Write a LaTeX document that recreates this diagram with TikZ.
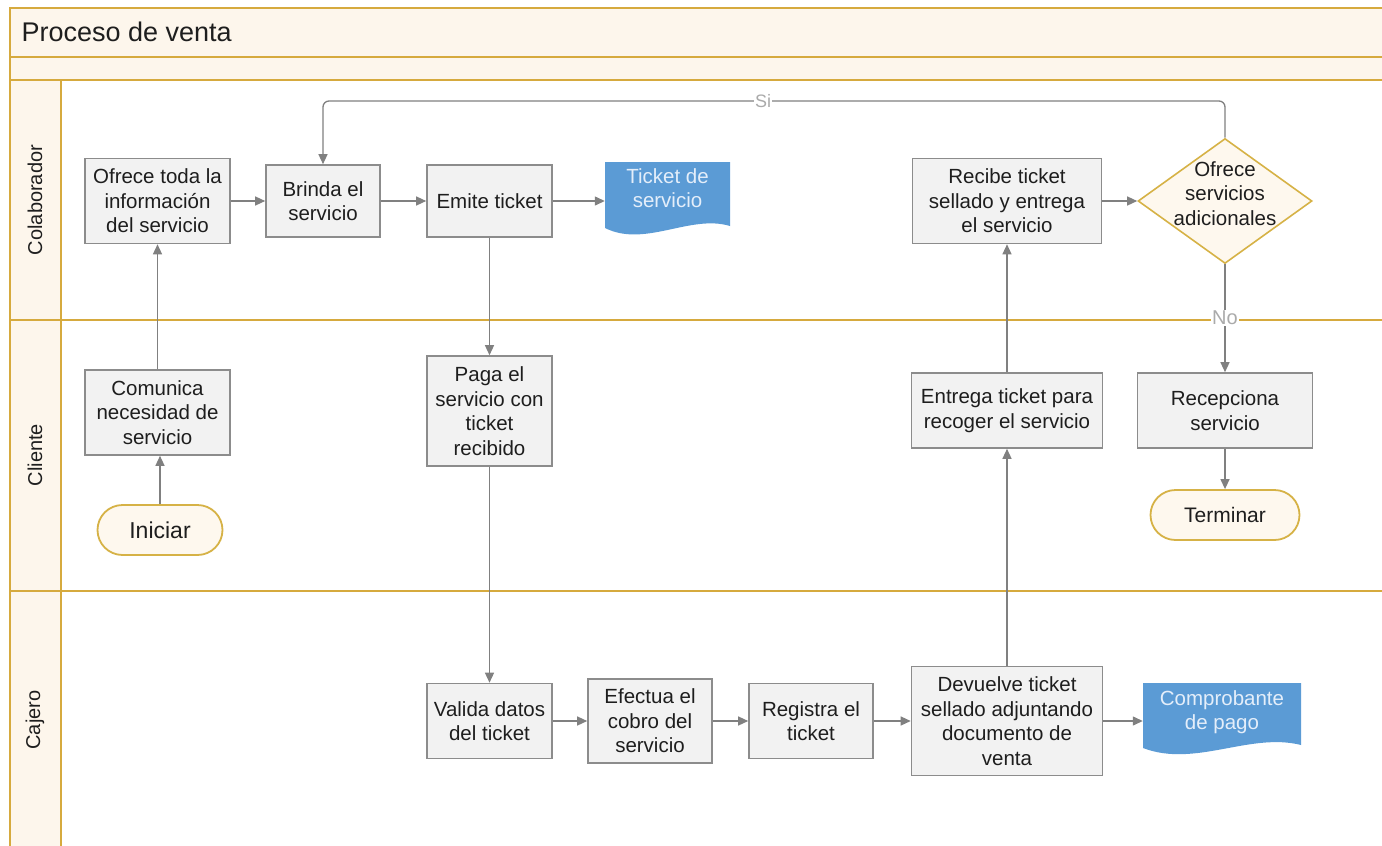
\documentclass[tikz,border=0pt]{standalone}
\usepackage{fontspec}
\setmainfont{Liberation Sans}
\usetikzlibrary{shapes.geometric,arrows.meta}

\definecolor{lanegold}{RGB}{214,170,62}
\definecolor{lanecream}{RGB}{253,246,236}
\definecolor{boxfill}{RGB}{242,242,242}
\definecolor{boxline}{RGB}{140,140,140}
\definecolor{conngray}{RGB}{128,128,128}
\definecolor{docblue}{RGB}{91,155,213}
\definecolor{doctext}{RGB}{228,238,250}
\definecolor{termfill}{RGB}{254,248,238}
\definecolor{termline}{RGB}{214,178,70}
\definecolor{labelgray}{RGB}{170,170,170}
\definecolor{inkdark}{RGB}{30,30,30}

\newcommand{\boxfont}{\fontsize{20.5}{24.5}\selectfont}

\begin{document}
\begin{tikzpicture}[x=1pt,y=-1pt,
  laneline/.style={draw=lanegold, line width=2.2pt},
  lanelabel/.style={font=\fontsize{20}{24}\selectfont, text=inkdark, rotate=90},
  procbox/.style={draw=boxline, fill=boxfill, line width=1.6pt, inner sep=0pt,
    align=center, font=\boxfont, text=inkdark},
  termbox/.style={draw=termline, fill=termfill, line width=1.8pt, inner sep=0pt,
    rounded corners=25pt, minimum height=50pt, text=inkdark},
  decision/.style={diamond, draw=termline, fill=termfill, line width=1.6pt,
    inner sep=0pt, minimum width=174pt, minimum height=125pt, text=inkdark},
  docnode/.style={inner sep=0pt, align=center, font=\boxfont, text=doctext,
    minimum height=52pt},
  conn/.style={draw=conngray, line width=1.3pt, -{Triangle[length=10pt,width=9pt]}},
  flowlabel/.style={fill=white, inner sep=1pt, text=labelgray}
]
\useasboundingbox (0,0) rectangle (1382,846);

% pool header bands and lane header column
\fill[lanecream] (10,8) rectangle (1382,80);
\fill[lanecream] (10,80) rectangle (61,846);
\draw[laneline] (1382,8) -- (10,8) -- (10,846);
\draw[laneline] (10,57) -- (1382,57);
\draw[laneline] (10,80) -- (1382,80);
\draw[laneline] (61,80) -- (61,846);
\draw[laneline] (10,320) -- (1382,320);
\draw[laneline] (10,591) -- (1382,591);

\node[anchor=west, font=\fontsize{27}{32}\selectfont, text=inkdark] (title) at (18,32) {Proceso de venta};

\node[lanelabel] (lcol) at (35,200) {Colaborador};
\node[lanelabel] (lcli) at (35,455) {Cliente};
\node[lanelabel] (lcaj) at (35,720) {Cajero};

% document shapes
\fill[docblue] (605,162) -- (730,162) -- (730,226)
  .. controls (690,214) and (645,248) .. (605,228) -- cycle;
\fill[docblue] (1143,683) -- (1301,683) -- (1301,745)
  .. controls (1250,732) and (1195,768) .. (1143,748) -- cycle;

% Colaborador lane
\node[procbox, minimum width=145pt, minimum height=85pt] (ofre) at (157.5,201)
  {Ofrece toda la\\informaci\'on\\del servicio};
\node[procbox, minimum width=114pt, minimum height=72pt] (brinda) at (323,201)
  {Brinda el\\servicio};
\node[procbox, minimum width=125pt, minimum height=72pt] (emite) at (489.5,201)
  {Emite ticket};
\node[docnode, minimum width=125pt] (tk) at (667.5,188) {Ticket de\\servicio};
\node[procbox, minimum width=189pt, minimum height=85pt] (recibe) at (1007,201)
  {Recibe ticket\\sellado y entrega\\el servicio};
\node[decision] (dia) at (1225,201)
  {\makebox[0pt]{\smash{\boxfont\begin{tabular}{@{}c@{}}Ofrece\\servicios\\adicionales\end{tabular}}}};

% Cliente lane
\node[procbox, minimum width=145pt, minimum height=85pt] (comunica) at (157.5,412.5)
  {Comunica\\necesidad de\\servicio};
\node[termbox, minimum width=125pt, font=\fontsize{23}{27}\selectfont] (iniciar) at (160,530) {Iniciar};
\node[procbox, minimum width=125pt, minimum height=110pt] (paga) at (489.5,411)
  {Paga el\\servicio con\\ticket\\recibido};
\node[procbox, minimum width=191pt, minimum height=75pt] (entrega) at (1007,410.5)
  {Entrega ticket para\\recoger el servicio};
\node[procbox, minimum width=175pt, minimum height=75pt] (recep) at (1225,410.5)
  {Recepciona\\servicio};
\node[termbox, minimum width=149pt, font=\fontsize{21}{25}\selectfont] (terminar) at (1225,515) {Terminar};

% Cajero lane
\node[procbox, minimum width=125pt, minimum height=75pt] (valida) at (489.5,721)
  {Valida datos\\del ticket};
\node[procbox, minimum width=124pt, minimum height=84pt] (efectua) at (650,721)
  {Efectua el\\cobro del\\servicio};
\node[procbox, minimum width=124pt, minimum height=75pt] (registra) at (811,721)
  {Registra el\\ticket};
\node[procbox, minimum width=191pt, minimum height=109pt] (devuelve) at (1007,721)
  {Devuelve ticket\\sellado adjuntando\\documento de\\venta};
\node[docnode, minimum width=158pt] (comp) at (1222,712) {Comprobante\\de pago};

% flow
\draw[conn] (iniciar.north) -- (iniciar.north |- comunica.south);
\draw[conn] (comunica) -- (ofre);
\draw[conn] (ofre) -- (brinda);
\draw[conn] (brinda) -- (emite);
\draw[conn] (emite) -- (emite -| tk.west);
\draw[conn] (emite) -- (paga);
\draw[conn] (paga) -- (valida);
\draw[conn] (valida) -- (efectua);
\draw[conn] (efectua) -- (registra);
\draw[conn] (registra) -- (devuelve);
\draw[conn] (devuelve) -- (devuelve -| comp.west);
\draw[conn] (devuelve) -- (entrega);
\draw[conn] (entrega) -- (recibe);
\draw[conn] (recibe) -- (dia);
\coordinate (siy) at (763,101);
\draw[conn, rounded corners=6pt] (dia.north) -- (dia.north |- siy) -| (brinda.north);
\draw[conn] (dia) -- (recep);
\draw[conn] (recep) -- (terminar);

% decision labels
\node[flowlabel, font=\fontsize{18}{20}\selectfont] (silab) at (siy) {Si};
\coordinate (noy) at (0,318);
\node[flowlabel, font=\fontsize{20}{22}\selectfont] (nolab) at (dia.south |- noy) {No};
\end{tikzpicture}
\end{document}
